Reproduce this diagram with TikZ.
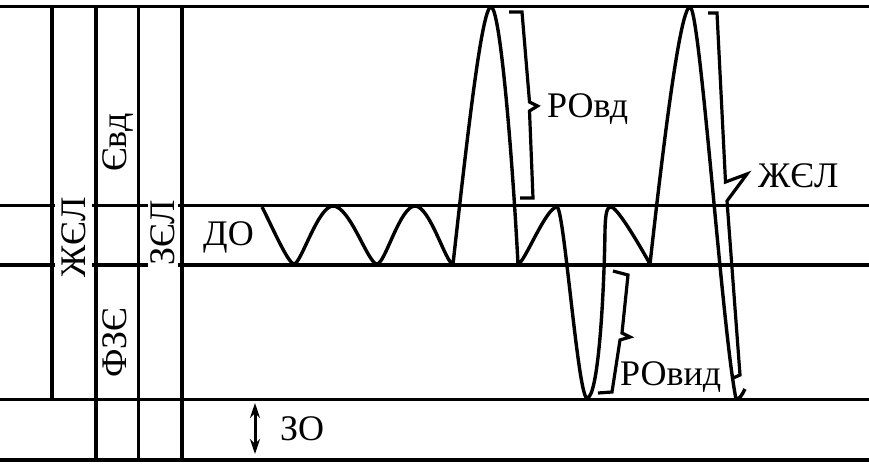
\documentclass[tikz,border=0pt]{standalone}
\usepackage{fontspec}
\setmainfont{Liberation Serif}
\usetikzlibrary{arrows.meta}
\begin{document}
\begin{tikzpicture}[x=1pt,y=-1pt,
  grid/.style={line width=3.6pt},
  curve/.style={line width=3.4pt, line join=round},
  bracket/.style={line width=3.2pt, line join=miter},
  lbl/.style={inner sep=0pt, font=\fontsize{36}{40}\selectfont},
  hlbl/.style={lbl, anchor=base west},
  vlbl/.style={lbl, rotate=90, anchor=base west},
  dbl/.style={line width=3pt, {Stealth[length=15pt,width=10pt]}-{Stealth[length=15pt,width=10pt]}}
]
\useasboundingbox (0,0) rectangle (869,472);
% horizontal grid lines
\draw[grid] (0,6.5) -- (869,6.5);
\draw[grid] (0,205.5) -- (55,205.5) (92,205.5) -- (148,205.5) (178,205.5) -- (869,205.5);
\draw[grid] (0,265) -- (55,265) (92,265) -- (148,265) (178,265) -- (869,265);
\draw[grid] (0,399.5) -- (869,399.5);
\draw[grid] (0,460) -- (869,460);
% vertical grid lines
\draw[grid] (51.7,6.5) -- (51.7,399.5);
\draw[grid] (95.7,6.5) -- (95.7,460);
\draw[grid] (138.3,6.5) -- (138.3,460);
\draw[grid] (181.7,6.5) -- (181.7,460);
% wave
\draw[curve] (262,207) .. controls (270,222) and (288,264) .. (294,264)
  .. controls (301,264) and (318,206) .. (333,206)
  .. controls (350,206) and (368,264) .. (377,264)
  .. controls (385,264) and (400,206) .. (415,206)
  .. controls (430,206) and (446,264) .. (453,264)
  .. controls (468,130) and (482,7) .. (491,7)
  .. controls (500,7) and (512,150) .. (518,264)
  .. controls (524,264) and (546,207) .. (557,207)
  .. controls (564,207) and (578,398) .. (587,398)
  .. controls (598,398) and (604,300) .. (605,230)
  .. controls (605.5,212) and (607,207) .. (611,207)
  .. controls (618,207) and (645,255) .. (650,264)
  .. controls (666,120) and (681,7) .. (690,7)
  .. controls (700,7) and (722,330) .. (736,399)
  .. controls (739,400) and (742,395) .. (745,389);
% brackets
\draw[bracket] (509,12) -- (522,12) -- (529.5,102) -- (537.5,106) -- (529.5,111) -- (533,198) -- (520,198);
\draw[bracket] (613,271) -- (628,275) -- (622,333) -- (630,337) -- (620,340) -- (612,392) -- (598,393);
\draw[bracket] (708,13) -- (717,13) -- (725.5,182) -- (747,174) -- (727,201) -- (740,375) -- (733,378);
% ZO arrow
\coordinate (zotop) at (255,403);
\coordinate (zobot) at (255,454);
\draw[dbl] (zotop) -- (zobot);
% labels
\node[hlbl] (do) at (203,245) {ДО};
\node[hlbl] (zo) at (280,440) {ЗО};
\node[hlbl] (rovd) at (547,117) {РОвд};
\node[hlbl] (zhelr) at (758,187) {ЖЄЛ};
\node[hlbl] (rovyd) at (620,385) {РОвид};
\node[vlbl] (zhel) at (85,278) {ЖЄЛ};
\node[vlbl] (evd) at (126.5,172) {Євд};
\node[vlbl] (fze) at (126.5,378) {ФЗЄ};
\node[vlbl] (zel) at (174,266) {ЗЄЛ};
\end{tikzpicture}
\end{document}
